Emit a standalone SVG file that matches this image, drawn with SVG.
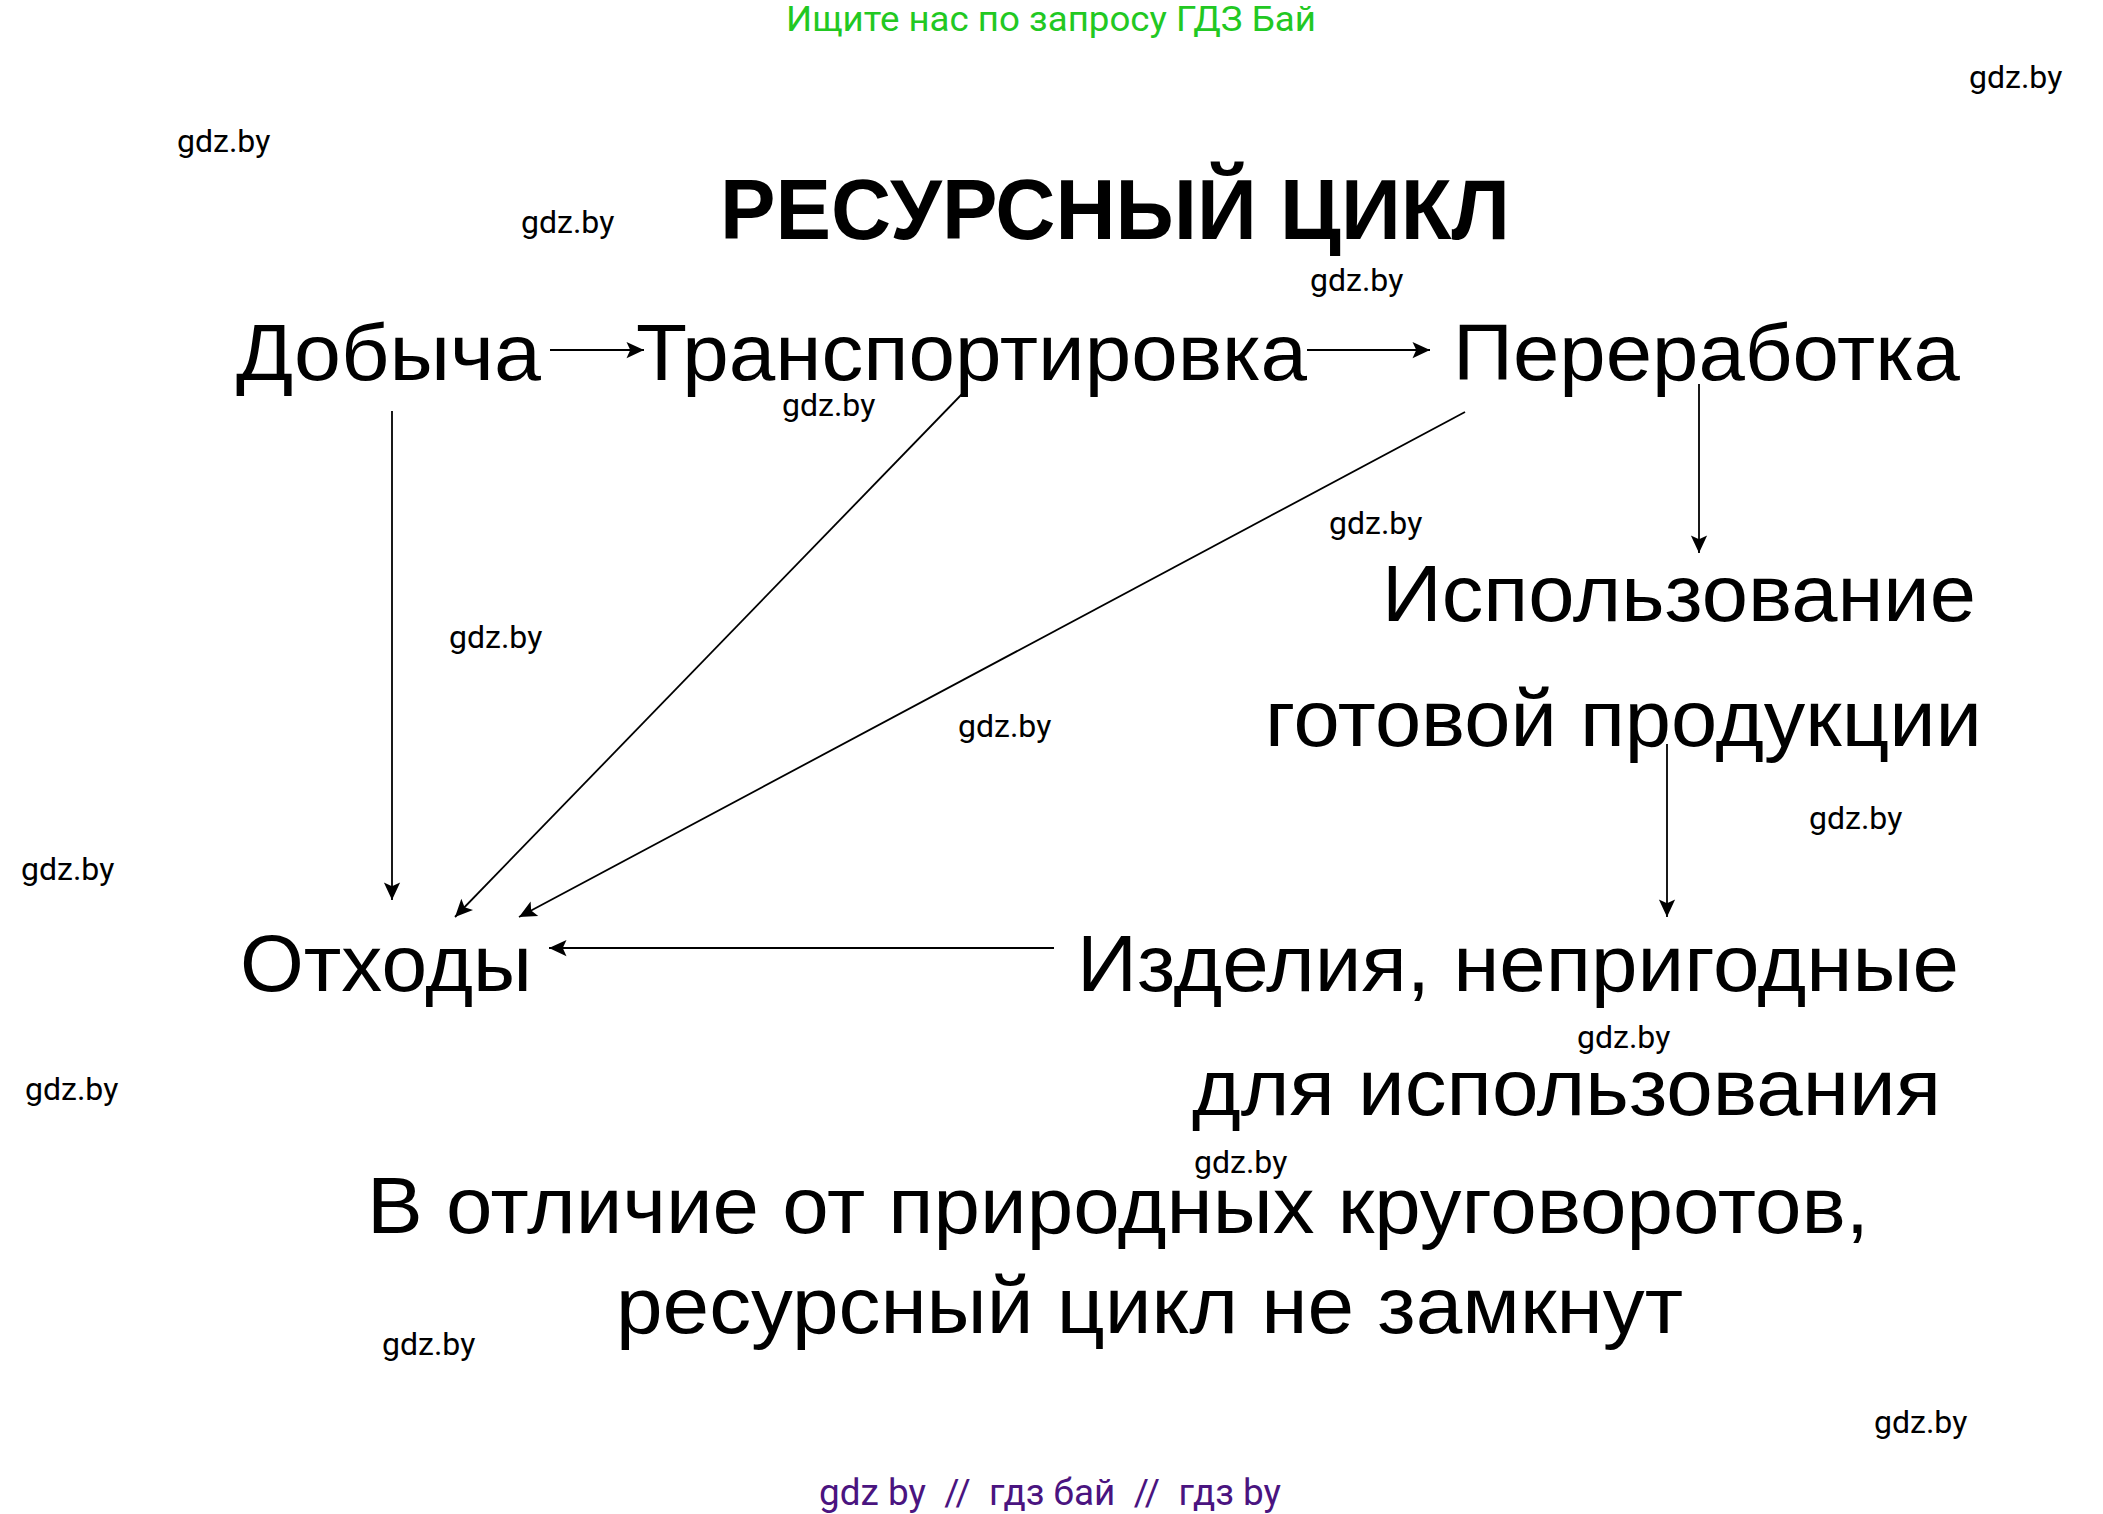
<svg xmlns="http://www.w3.org/2000/svg" width="2103" height="1514" viewBox="0 0 2103 1514">
<style>
.main{font-family:"Liberation Sans",Arial,sans-serif;font-size:80px;fill:#000;}
.title{font-family:"Liberation Sans",Arial,sans-serif;font-size:86px;font-weight:bold;fill:#000;}
.wm{font-family:Roboto,"Liberation Sans",sans-serif;font-size:32px;fill:#000;}
.top{font-family:Roboto,"Liberation Sans",sans-serif;font-size:35px;fill:#22c822;}
.bot{font-family:Roboto,"Liberation Sans",sans-serif;font-size:36px;fill:#4a1480;white-space:pre;}
.con{stroke:#000;stroke-width:1.8;fill:none;marker-end:url(#ah);}
</style>
<defs>
<marker id="ah" markerUnits="userSpaceOnUse" markerWidth="20" markerHeight="20" refX="15" refY="7" orient="auto" viewBox="0 0 16 14">
<path d="M15,7 L1,0.5 L4,7 L1,13.5 Z" fill="#000"/>
</marker>
</defs>
<rect x="0" y="0" width="2103" height="1514" fill="#fff"/>

<text class="top" x="786" y="31" textLength="530" lengthAdjust="spacingAndGlyphs">Ищите нас по запросу ГДЗ Бай</text>

<g id="title"><text class="title" x="720" y="239" textLength="790" lengthAdjust="spacingAndGlyphs">РЕСУРСНЫЙ ЦИКЛ</text></g>

<g id="dobycha"><text class="main" x="236" y="380" textLength="305" lengthAdjust="spacingAndGlyphs">Добыча</text></g>
<g id="transport"><text class="main" x="636" y="380" textLength="671" lengthAdjust="spacingAndGlyphs">Транспортировка</text></g>
<g id="pererabotka"><text class="main" x="1453" y="380" textLength="507" lengthAdjust="spacingAndGlyphs">Переработка</text></g>
<g id="ispolzovanie">
<text class="main" x="1382" y="621" textLength="594" lengthAdjust="spacingAndGlyphs">Использование</text>
<text class="main" x="1265" y="746" textLength="717" lengthAdjust="spacingAndGlyphs">готовой продукции</text>
</g>
<g id="othody"><text class="main" x="240" y="991" textLength="292" lengthAdjust="spacingAndGlyphs">Отходы</text></g>
<g id="izdelia">
<text class="main" x="1077" y="991" textLength="882" lengthAdjust="spacingAndGlyphs">Изделия, непригодные</text>
<text class="main" x="1192" y="1115" textLength="749" lengthAdjust="spacingAndGlyphs">для использования</text>
</g>
<g id="note">
<text class="main" x="367" y="1233" textLength="1502" lengthAdjust="spacingAndGlyphs">В отличие от природных круговоротов,</text>
<text class="main" x="616" y="1333" textLength="1067" lengthAdjust="spacingAndGlyphs">ресурсный цикл не замкнут</text>
</g>

<g id="connectors">
<line class="con" x1="550" y1="350" x2="644" y2="350"/>
<line class="con" x1="1307" y1="350" x2="1430" y2="350"/>
<line class="con" x1="1699" y1="384" x2="1699" y2="553"/>
<line class="con" x1="392" y1="411" x2="392" y2="900"/>
<line class="con" x1="962" y1="394" x2="455" y2="917"/>
<line class="con" x1="1465" y1="412" x2="519" y2="917"/>
<line class="con" x1="1667" y1="744" x2="1667" y2="917"/>
<line class="con" x1="1054" y1="948" x2="549" y2="948"/>
</g>

<g id="watermarks">
<text class="wm" x="1969" y="88">gdz.by</text>
<text class="wm" x="177" y="152">gdz.by</text>
<text class="wm" x="521" y="233">gdz.by</text>
<text class="wm" x="1310" y="291">gdz.by</text>
<text class="wm" x="782" y="416">gdz.by</text>
<text class="wm" x="1329" y="534">gdz.by</text>
<text class="wm" x="449" y="648">gdz.by</text>
<text class="wm" x="958" y="737">gdz.by</text>
<text class="wm" x="1809" y="829">gdz.by</text>
<text class="wm" x="21" y="880">gdz.by</text>
<text class="wm" x="1577" y="1048">gdz.by</text>
<text class="wm" x="25" y="1100">gdz.by</text>
<text class="wm" x="1194" y="1173">gdz.by</text>
<text class="wm" x="382" y="1355">gdz.by</text>
<text class="wm" x="1874" y="1433">gdz.by</text>
</g>

<text class="bot" x="819" y="1505" textLength="462" lengthAdjust="spacingAndGlyphs" xml:space="preserve">gdz by  //  гдз бай  //  гдз by</text>
</svg>
